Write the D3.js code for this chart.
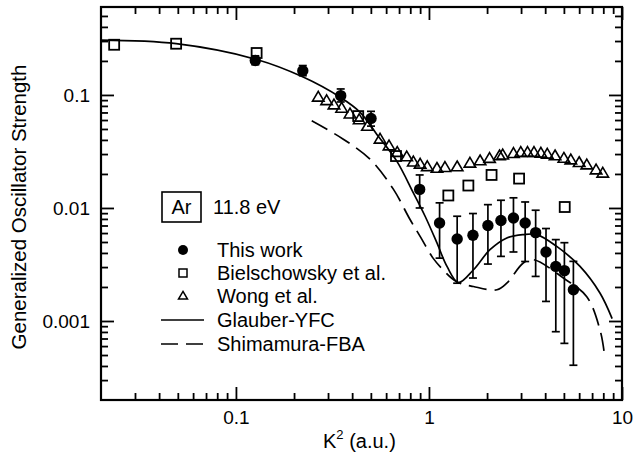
<!DOCTYPE html>
<html>
<head>
<meta charset="utf-8">
<script src="https://cdn.jsdelivr.net/npm/d3@7"></script>
<style>
  body { margin: 0; background: #fff; }
  text { font-family: "Liberation Sans", Arial, sans-serif; fill: #000; }
</style>
</head>
<body>
<div id="chart"></div>
<script>
// Ar 11.8 eV generalized oscillator strength vs K^2

// This work (filled circles with error bars)
const workK  = [0.126, 0.222, 0.349, 0.501, 0.895, 1.135, 1.40, 1.69, 2.02, 2.36, 2.74, 3.15, 3.57, 4.04, 4.54, 5.03, 5.6];
const workG  = [0.202, 0.164, 0.0986, 0.062, 0.0146, 0.00736, 0.00532, 0.00573, 0.00699, 0.00774, 0.00815, 0.00736, 0.00605, 0.00408, 0.00304, 0.00279, 0.00189];
const workHi = [0.222, 0.182, 0.113, 0.0716, 0.0196, 0.0111, 0.00845, 0.00893, 0.0107, 0.0117, 0.0123, 0.0113, 0.00955, 0.00658, 0.00525, 0.00493, 0.00337];
const workLo = [0.185, 0.148, 0.0867, 0.053, 0.0100, 0.0036, 0.00216, 0.0024, 0.00319, 0.00373, 0.00408, 0.00336, 0.00248, 0.00149, 0.000804, 0.000634, 0.000406];

// Bielschowsky et al. (open squares)
const bielK = [0.0234, 0.049, 0.128, 0.43, 0.675, 1.26, 1.6, 2.11, 2.93, 5.05];
const bielG = [0.278, 0.284, 0.235, 0.065, 0.0288, 0.0129, 0.0158, 0.0196, 0.0182, 0.0102];

// Wong et al. (open triangles)
const wongK = [0.267, 0.295, 0.322, 0.353, 0.39, 0.435, 0.48, 0.558, 0.621, 0.685, 0.767, 0.83, 0.9, 0.98, 1.10, 1.21, 1.40, 1.63, 1.84, 2.06, 2.32, 2.41, 2.74, 2.99, 3.24, 3.5, 3.8, 4.1, 4.5, 5.0, 5.43, 6.0, 6.57, 7.34, 7.95];
const wongG = [0.0955, 0.089, 0.0815, 0.0762, 0.0678, 0.0603, 0.0527, 0.0406, 0.0354, 0.031, 0.0283, 0.0255, 0.0244, 0.0232, 0.0224, 0.0228, 0.0231, 0.0249, 0.0261, 0.0274, 0.0289, 0.0294, 0.0303, 0.031, 0.031, 0.031, 0.0305, 0.0299, 0.0289, 0.0275, 0.0266, 0.0252, 0.024, 0.0217, 0.0203];

// Glauber-YFC (solid curve)
const glauberK = [0.02, 0.049, 0.128, 0.223, 0.347, 0.44, 0.536, 0.68, 0.83, 0.955, 1.10, 1.24, 1.42, 1.70, 2.07, 2.53, 3.08, 3.62, 4.59, 6.06, 7.7, 8.89];
const glauberG = [0.305, 0.284, 0.206, 0.144, 0.0954, 0.0702, 0.045, 0.0261, 0.0136, 0.00845, 0.00491, 0.00304, 0.00219, 0.00284, 0.00427, 0.00543, 0.00581, 0.00581, 0.00457, 0.00304, 0.00176, 0.00105];

// Shimamura-FBA (dashed curve)
const shimK = [0.247, 0.36, 0.495, 0.655, 0.798, 0.9, 1.05, 1.16, 1.39, 1.70, 2.25, 2.53, 3.08, 3.47, 4.97, 6.57, 7.7, 8.08];
const shimG = [0.0591, 0.0406, 0.027, 0.0146, 0.0079, 0.00561, 0.0036, 0.00294, 0.00223, 0.00202, 0.00189, 0.00216, 0.00326, 0.00349, 0.0024, 0.00164, 0.00083, 0.000533];

// axis ticks
const xMajor = [0.1, 1, 10];
const xLabels = ["0.1", "1", "10"];
const yMajor = [0.001, 0.01, 0.1];
const yLabels = ["0.001", "0.01", "0.1"];

const legendItems = ["This work", "Bielschowsky et al.", "Wong et al.", "Glauber-YFC", "Shimamura-FBA"];

const width = 634, height = 466;
const plot = { left: 101, top: 7, right: 622, bottom: 400 };

const svg = d3.select("#chart").append("svg")
  .attr("width", width)
  .attr("height", height);

const x = d3.scaleLog().domain([0.02, 10]).range([plot.left, plot.right]);
const y = d3.scaleLog().domain([0.0002, 0.6]).range([plot.bottom, plot.top]);

// minor ticks, 2..9 of each decade inside the domain
function minorTicks(scale) {
  const [a, b] = scale.domain();
  const out = [];
  for (let e = Math.floor(Math.log10(a)); e <= Math.ceil(Math.log10(b)); e++) {
    for (let m = 2; m <= 9; m++) {
      const v = m * Math.pow(10, e);
      if (v > a * 1.0001 && v < b * 0.9999) out.push(v);
    }
  }
  return out;
}

function addAxis(axisFn, scale, transform, values, size, labels) {
  const ax = axisFn(scale).tickValues(values).tickSize(-size).tickSizeOuter(0);
  if (labels) ax.tickFormat((d, i) => labels[i]).tickPadding(11);
  else ax.tickFormat("");
  const g = svg.append("g").attr("transform", transform).call(ax);
  g.select(".domain").remove();
  g.selectAll(".tick line").attr("stroke", "#000").attr("stroke-width", 1.8);
  g.selectAll(".tick text").style("font-size", "19px").attr("fill", "#000");
  return g;
}

const xMinor = minorTicks(x), yMinor = minorTicks(y);
// bottom / top
addAxis(d3.axisBottom, x, `translate(0,${plot.bottom})`, xMajor, 13, xLabels);
addAxis(d3.axisBottom, x, `translate(0,${plot.bottom})`, xMinor, 7, null);
addAxis(d3.axisTop, x, `translate(0,${plot.top})`, xMajor, 13, null);
addAxis(d3.axisTop, x, `translate(0,${plot.top})`, xMinor, 7, null);
// left / right
addAxis(d3.axisLeft, y, `translate(${plot.left},0)`, yMajor, 13, yLabels)
  .selectAll(".tick text").attr("dy", "0.36em");
addAxis(d3.axisLeft, y, `translate(${plot.left},0)`, yMinor, 7, null);
addAxis(d3.axisRight, y, `translate(${plot.right},0)`, yMajor, 13, null);
addAxis(d3.axisRight, y, `translate(${plot.right},0)`, yMinor, 7, null);

// frame
svg.append("rect")
  .attr("x", plot.left).attr("y", plot.top)
  .attr("width", plot.right - plot.left).attr("height", plot.bottom - plot.top)
  .attr("fill", "none").attr("stroke", "#000").attr("stroke-width", 2.2);

// axis titles
const xt = svg.append("text")
  .attr("x", 323).attr("y", 448)
  .style("font-size", "20px");
xt.append("tspan").text("K");
xt.append("tspan").attr("dy", -9).style("font-size", "13px").text("2");
xt.append("tspan").attr("dy", 9).text(" (a.u.)");

svg.append("text")
  .attr("transform", "translate(26,207) rotate(-90)")
  .attr("text-anchor", "middle")
  .style("font-size", "20.5px")
  .text("Generalized Oscillator Strength");

// curves
const line = d3.line()
  .x(d => x(d[0]))
  .y(d => y(d[1]))
  .curve(d3.curveCatmullRom.alpha(0.5));

svg.append("path")
  .datum(d3.zip(glauberK, glauberG))
  .attr("d", line)
  .attr("fill", "none").attr("stroke", "#000").attr("stroke-width", 1.7);

svg.append("path")
  .datum(d3.zip(shimK, shimG))
  .attr("d", line)
  .attr("fill", "none").attr("stroke", "#000").attr("stroke-width", 1.7)
  .attr("stroke-dasharray", "18,8");

// triangle path centered on 0,0
function triPath(s) {
  const h = s * 0.85;
  return `M0,${-h * 0.6}L${s / 2},${h * 0.4}L${-s / 2},${h * 0.4}Z`;
}

// Wong triangles
svg.append("g").selectAll("path")
  .data(d3.zip(wongK, wongG))
  .join("path")
  .attr("transform", d => `translate(${x(d[0])},${y(d[1])})`)
  .attr("d", triPath(11.5))
  .attr("fill", "none").attr("stroke", "#000").attr("stroke-width", 1.6);

// Bielschowsky squares
svg.append("g").selectAll("rect")
  .data(d3.zip(bielK, bielG))
  .join("rect")
  .attr("x", d => x(d[0]) - 5).attr("y", d => y(d[1]) - 5)
  .attr("width", 10).attr("height", 10)
  .attr("fill", "none").attr("stroke", "#000").attr("stroke-width", 1.8);

// error bars
const work = workK.map((k, i) => ({ k, g: workG[i], lo: workLo[i], hi: workHi[i] }));
const eb = svg.append("g").attr("stroke", "#000").attr("stroke-width", 1.7);
eb.selectAll(".stem").data(work).join("line")
  .attr("x1", d => x(d.k)).attr("x2", d => x(d.k))
  .attr("y1", d => y(d.lo)).attr("y2", d => y(d.hi));
eb.selectAll(".capHi").data(work).join("line")
  .attr("x1", d => x(d.k) - 4).attr("x2", d => x(d.k) + 4)
  .attr("y1", d => y(d.hi)).attr("y2", d => y(d.hi));
eb.selectAll(".capLo").data(work).join("line")
  .attr("x1", d => x(d.k) - 4).attr("x2", d => x(d.k) + 4)
  .attr("y1", d => y(d.lo)).attr("y2", d => y(d.lo));

svg.append("g").selectAll("circle")
  .data(work)
  .join("circle")
  .attr("cx", d => x(d.k)).attr("cy", d => y(d.g))
  .attr("r", 5.7).attr("fill", "#000");

// label box
svg.append("rect")
  .attr("x", 162).attr("y", 192).attr("width", 39).attr("height", 30)
  .attr("fill", "none").attr("stroke", "#000").attr("stroke-width", 1.6);
svg.append("text").attr("x", 181.5).attr("y", 214).attr("text-anchor", "middle")
  .style("font-size", "20px").text("Ar");
svg.append("text").attr("x", 213).attr("y", 214)
  .style("font-size", "20px").text("11.8 eV");

// legend
const legY = [250, 273, 296, 320, 344];
const lg = svg.append("g");
lg.selectAll("text").data(legendItems).join("text")
  .attr("x", 217).attr("y", (d, i) => legY[i] + 7)
  .style("font-size", "20px")
  .text(d => d);
lg.append("circle").attr("cx", 183).attr("cy", legY[0]).attr("r", 5).attr("fill", "#000");
lg.append("rect").attr("x", 179).attr("y", legY[1] - 4).attr("width", 8).attr("height", 8)
  .attr("fill", "none").attr("stroke", "#000").attr("stroke-width", 1.5);
lg.append("path").attr("transform", `translate(183,${legY[2]})`).attr("d", triPath(9))
  .attr("fill", "none").attr("stroke", "#000").attr("stroke-width", 1.5);
lg.append("line").attr("x1", 161).attr("x2", 204).attr("y1", legY[3]).attr("y2", legY[3])
  .attr("stroke", "#000").attr("stroke-width", 1.7);
lg.append("line").attr("x1", 161).attr("x2", 204).attr("y1", legY[4]).attr("y2", legY[4])
  .attr("stroke", "#000").attr("stroke-width", 1.7).attr("stroke-dasharray", "17,8");
</script>
</body>
</html>
